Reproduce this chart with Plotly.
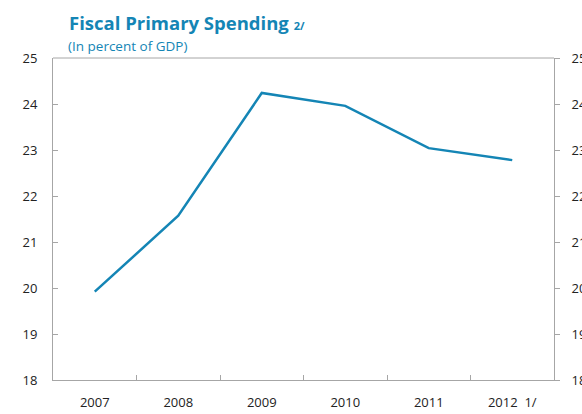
import plotly.graph_objects as go

years = ["2007", "2008", "2009", "2010", "2011", "2012  1/"]
spending = [19.92, 21.57, 24.24, 23.96, 23.04, 22.78]
y_ticks = [18, 19, 20, 21, 22, 23, 24, 25]

BLUE = "#1485b5"
AXIS = "#a6a6a6"
FONT = "Open Sans"

fig = go.Figure()
fig.add_trace(go.Scatter(x=years, y=spending, mode="lines",
                         line=dict(color=BLUE, width=2.5), showlegend=False,
                         hoverinfo="skip"))
# mirror trace so the right-hand axis is drawn
fig.add_trace(go.Scatter(x=years, y=spending, yaxis="y2", mode="lines",
                         line=dict(width=0), opacity=0, showlegend=False,
                         hoverinfo="skip"))

axis_font = dict(family=FONT, size=13, color="#222222")

fig.update_layout(
    width=582, height=414,
    margin=dict(l=53, r=28, t=58, b=34),
    paper_bgcolor="white", plot_bgcolor="white",
    xaxis=dict(type="category", range=[-0.5, 5.5], tickson="boundaries",
               ticks="inside", ticklen=5, tickcolor=AXIS,
               showline=True, linecolor=AXIS, linewidth=1, mirror=False,
               showgrid=False, tickfont=axis_font, ticklabelstandoff=10,
               automargin=False),
    yaxis=dict(range=[18, 25], tickvals=y_ticks, ticks="inside", ticklen=5,
               tickcolor=AXIS, showline=True, linecolor=AXIS, linewidth=1,
               showgrid=False, zeroline=False, tickfont=axis_font,
               ticklabelstandoff=12, automargin=False),
    yaxis2=dict(range=[18, 25], tickvals=y_ticks, overlaying="y", side="right",
                ticks="outside", ticklen=5, tickcolor=AXIS, showline=True,
                linecolor=AXIS, linewidth=1, showgrid=False, zeroline=False,
                tickfont=axis_font, ticklabelstandoff=9, automargin=False),
    shapes=[dict(type="line", xref="paper", yref="paper", x0=0, x1=1, y0=1, y1=1,
                 line=dict(color=AXIS, width=1))],
    annotations=[
        dict(text="<b>Fiscal Primary Spending</b> <b><span style='font-size:11px'>2/</span></b>",
             xref="paper", yref="paper", x=(67 - 53) / 501, y=(380 - 22) / 322,
             xanchor="left", yanchor="middle", showarrow=False,
             font=dict(family=FONT, size=18.5, color=BLUE)),
        dict(text="(In percent of GDP)",
             xref="paper", yref="paper", x=(66 - 53) / 501, y=(380 - 46) / 322,
             xanchor="left", yanchor="middle", showarrow=False,
             font=dict(family=FONT, size=13.5, color=BLUE)),
    ],
)

fig.write_html("out.html")
